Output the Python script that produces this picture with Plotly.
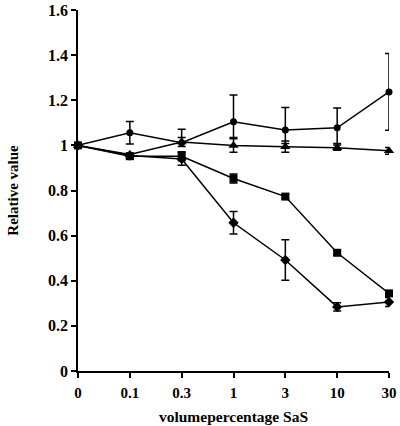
import plotly.graph_objects as go

categories = ["0", "0.1", "0.3", "1", "3", "10", "30"]

circle_vals = [1.0, 1.056, 1.012, 1.105, 1.068, 1.078, 1.237]
circle_err_plus = [0.0, 0.05, 0.06, 0.118, 0.10, 0.088, 0.17]
circle_err_minus = [0.0, 0.05, 0.0, 0.07, 0.06, 0.07, 0.17]

triangle_vals = [1.0, 0.96, 1.015, 0.999, 0.994, 0.99, 0.976]
triangle_err = [0.0, 0.0, 0.02, 0.03, 0.025, 0.012, 0.015]

square_vals = [1.0, 0.952, 0.952, 0.853, 0.773, 0.524, 0.344]
square_err = [0.0, 0.01, 0.02, 0.02, 0.01, 0.01, 0.01]

diamond_vals = [1.0, 0.955, 0.94, 0.657, 0.492, 0.284, 0.306]
diamond_err = [0.0, 0.01, 0.028, 0.05, 0.09, 0.018, 0.02]

fig = go.Figure()

def add(vals, symbol, size, eplus, eminus=None):
    err = dict(type="data", array=eplus, color="black", thickness=1.5, width=4, visible=True)
    if eminus is not None:
        err["symmetric"] = False
        err["arrayminus"] = eminus
    fig.add_trace(go.Scatter(
        x=categories, y=vals, mode="lines+markers",
        line=dict(color="black", width=1.5),
        marker=dict(symbol=symbol, size=size, color="black"),
        error_y=err, showlegend=False, cliponaxis=False,
    ))

add(diamond_vals, "diamond", 8, diamond_err)
add(square_vals, "square", 8, square_err)
add(triangle_vals, "triangle-up", 9, triangle_err)
add(circle_vals, "circle", 7, circle_err_plus, circle_err_minus)

fig.update_layout(
    width=400, height=426,
    margin=dict(l=78, r=11, t=10, b=55, autoexpand=False),
    plot_bgcolor="white", paper_bgcolor="white",
    font=dict(family="Liberation Serif", size=14, color="black"),
    xaxis=dict(
        type="category", range=[0, 6], automargin=False,
        showline=True, linecolor="black", linewidth=1.5,
        ticks="outside", ticklen=5, tickwidth=1.5, tickcolor="black",
        ticklabelstandoff=2,
        showgrid=False, zeroline=False,
        tickfont=dict(family="Liberation Serif", size=15, color="black", weight="bold"),
        title=dict(text="<b>volumepercentage SaS</b>", standoff=11,
                   font=dict(family="Liberation Serif", size=15.5, color="black")),
    ),
    yaxis=dict(
        range=[0, 1.6], dtick=0.2, tick0=0, automargin=False,
        showline=True, linecolor="black", linewidth=1.5,
        ticks="outside", ticklen=5, tickwidth=1.5, tickcolor="black",
        showgrid=False, zeroline=False,
        tickfont=dict(family="Liberation Serif", size=16, color="black", weight="bold"),
        title=dict(text="<b>Relative value</b>", standoff=26,
                   font=dict(family="Liberation Serif", size=15, color="black")),
    ),
)

fig.write_html("out.html", config={"displayModeBar": False},
               post_script="document.body.style.margin='0';")
